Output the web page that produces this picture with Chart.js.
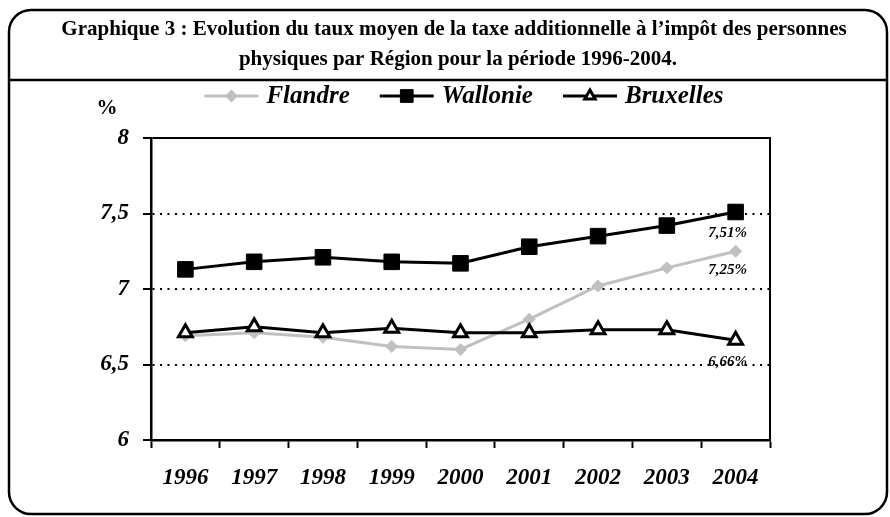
<!DOCTYPE html>
<html>
<head>
<meta charset="utf-8">
<script src="https://cdn.jsdelivr.net/npm/chart.js@4.4.0/dist/chart.umd.min.js"></script>
<style>
html, body { margin: 0; padding: 0; background: #fff; }
#wrap { width: 890px; height: 517px; position: relative; }
</style>
</head>
<body>
<div id="wrap"><canvas id="evolChart" width="890" height="517"></canvas></div>
<script>
// data
const years = ['1996', '1997', '1998', '1999', '2000', '2001', '2002', '2003', '2004'];
const flandre = [6.69, 6.71, 6.68, 6.62, 6.60, 6.80, 7.02, 7.14, 7.25];
const wallonie = [7.13, 7.18, 7.21, 7.18, 7.17, 7.28, 7.35, 7.42, 7.51];
const bruxelles = [6.71, 6.75, 6.71, 6.74, 6.71, 6.71, 6.73, 6.73, 6.66];
const seriesNames = ['Flandre', 'Wallonie', 'Bruxelles'];
const endLabels = ['7,25%', '7,51%', '6,66%'];
const yMin = 6, yMax = 8, yStep = 0.5;
const titleLines = [
    'Graphique 3 : Evolution du taux moyen de la taxe additionnelle à l\u2019impôt des personnes',
    'physiques par Région pour la période 1996-2004.'
];
const unitLabel = '%';

const SERIF = '"Liberation Serif", "Times New Roman", serif';
const GREY = '#c0c0c0';

// marker looks for both the lines and the legend
const markers = [
    { pointStyle: 'rectRot', radius: 6, fill: GREY, stroke: GREY, borderWidth: 1, line: GREY },
    { pointStyle: 'rect', radius: 11, fill: '#000', stroke: '#000', borderWidth: 1, line: '#000' },
    { pointStyle: 'triangle', radius: 8, fill: '#fff', stroke: '#000', borderWidth: 3, line: '#000' }
];

const decor = {
    id: 'decor',
    beforeDraw(chart) {
        const ctx = chart.ctx;
        ctx.save();
        ctx.fillStyle = '#fff';
        ctx.fillRect(0, 0, chart.width, chart.height);
        ctx.restore();
    },
    afterDraw(chart) {
        const ctx = chart.ctx;
        const a = chart.chartArea;
        ctx.save();

        // right edge of the plot box
        ctx.strokeStyle = '#000';
        ctx.lineWidth = 2;
        ctx.beginPath();
        ctx.moveTo(a.right, a.top - 1);
        ctx.lineTo(a.right, a.bottom);
        ctx.stroke();

        // outer rounded frame + line under the title
        ctx.lineWidth = 2.5;
        ctx.beginPath();
        ctx.roundRect(9, 10, 878, 504, 22);
        ctx.stroke();
        ctx.beginPath();
        ctx.moveTo(9, 80);
        ctx.lineTo(887, 80);
        ctx.stroke();

        // title
        ctx.fillStyle = '#000';
        ctx.textAlign = 'center';
        ctx.textBaseline = 'middle';
        ctx.font = 'bold 21px ' + SERIF;
        ctx.fillText(titleLines[0], 454, 30);
        ctx.fillText(titleLines[1], 458, 60);

        // unit
        ctx.font = 'bold 21px ' + SERIF;
        ctx.fillText(unitLabel, 107, 109);

        // legend
        ctx.font = 'italic bold 25px ' + SERIF;
        const lineLen = 54, gapText = 8, gapItem = 30;
        const widths = seriesNames.map(n => ctx.measureText(n).width);
        const total = widths.reduce((s, w) => s + lineLen + gapText + w, 0) + gapItem * 2;
        let x = 464 - total / 2;
        const ly = 96;
        seriesNames.forEach((name, i) => {
            const m = markers[i];
            ctx.strokeStyle = m.line;
            ctx.lineWidth = 3;
            ctx.beginPath();
            ctx.moveTo(x, ly);
            ctx.lineTo(x + lineLen, ly);
            ctx.stroke();
            ctx.fillStyle = m.fill;
            ctx.strokeStyle = m.stroke;
            ctx.lineWidth = m.borderWidth;
            Chart.helpers.drawPoint(ctx, {
                pointStyle: m.pointStyle,
                radius: i === 1 ? 9 : 6,
                rotation: 0,
                borderWidth: m.borderWidth
            }, x + lineLen / 2, ly);
            ctx.fillStyle = '#000';
            ctx.textAlign = 'left';
            ctx.fillText(name, x + lineLen + gapText, ly + 1);
            x += lineLen + gapText + widths[i] + gapItem;
        });

        // values at the end of each line
        ctx.font = 'italic bold 15px ' + SERIF;
        ctx.textAlign = 'center';
        ctx.fillStyle = '#000';
        const offsets = [19, 21, 22];
        [0, 1, 2].forEach(i => {
            const meta = chart.getDatasetMeta(i);
            const pt = meta.data[meta.data.length - 1];
            ctx.fillText(endLabels[i], pt.x - 8, pt.y + offsets[i]);
        });
        ctx.restore();
    }
};

function series(i, values, order) {
    const m = markers[i];
    return {
        label: seriesNames[i],
        data: values,
        order: order,
        borderColor: m.line,
        borderWidth: 3,
        pointStyle: m.pointStyle,
        pointRadius: m.radius,
        pointBackgroundColor: m.fill,
        pointBorderColor: m.stroke,
        pointBorderWidth: m.borderWidth,
        tension: 0
    };
}

var ctxEl = document.getElementById('evolChart');
var evolChart = new Chart(ctxEl, {
    type: 'line',
    data: {
        labels: years,
        datasets: [
            series(0, flandre, 2),
            series(1, wallonie, 1),
            series(2, bruxelles, 0)
        ]
    },
    options: {
        responsive: false,
        animation: false,
        events: [],
        layout: { padding: { top: 138, right: 120, left: 0, bottom: 0 } },
        plugins: {
            legend: { display: false },
            title: { display: false },
            tooltip: { enabled: false }
        },
        scales: {
            x: {
                offset: true,
                afterFit(scale) { scale.height = 77; },
                grid: {
                    offset: true,
                    drawOnChartArea: false,
                    drawTicks: true,
                    tickLength: 8,
                    tickWidth: 2,
                    tickColor: '#000',
                    color: '#000'
                },
                border: { color: '#000', width: 2.5 },
                ticks: {
                    color: '#000',
                    padding: 16,
                    maxRotation: 0,
                    font: { family: SERIF, size: 23, style: 'italic', weight: 'bold' }
                }
            },
            y: {
                min: yMin,
                max: yMax,
                afterFit(scale) { scale.width = 151; },
                grid: {
                    color: '#000',
                    lineWidth: 2,
                    tickLength: 8,
                    tickWidth: 2,
                    tickColor: '#000'
                },
                border: {
                    color: '#000',
                    width: 2.5,
                    dash: (c) => (c.tick && (c.tick.value === yMax || c.tick.value === yMin)) ? [] : [2, 5.5]
                },
                ticks: {
                    stepSize: yStep,
                    color: '#000',
                    padding: 14,
                    font: { family: SERIF, size: 23, style: 'italic', weight: 'bold' },
                    callback: (v) => String(v).replace('.', ',')
                }
            }
        }
    },
    plugins: [decor]
});
</script>
</body>
</html>
